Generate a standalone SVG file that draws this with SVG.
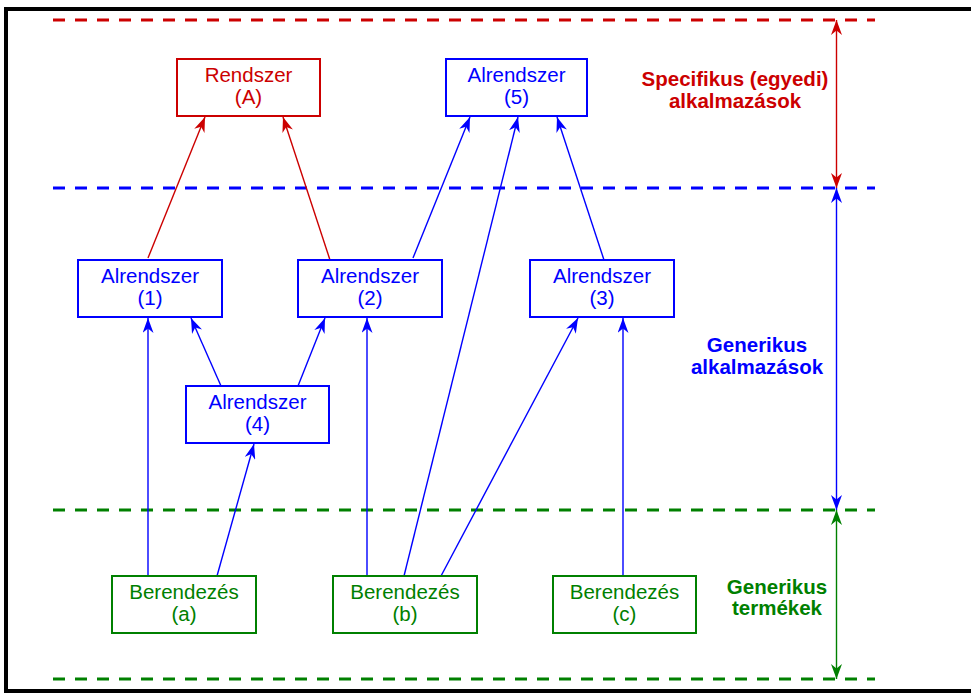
<svg xmlns="http://www.w3.org/2000/svg" width="971" height="693" viewBox="0 0 971 693">
  <style>
    .box { fill: #ffffff; stroke-width: 2; }
    .lbl { font-family: "Liberation Sans", Arial, sans-serif; font-size: 20.5px; text-anchor: middle; }
    .side { font-family: "Liberation Sans", Arial, sans-serif; font-size: 20.5px; font-weight: bold; text-anchor: middle; }
    .red { stroke: #cc0000; }
    .blue { stroke: #0000ff; }
    .green { stroke: #008000; }
    .tred { fill: #cc0000; }
    .tblue { fill: #0000ff; }
    .tgreen { fill: #008000; }
    .level { stroke-width: 3; stroke-dasharray: 12 10; fill: none; }
    .link { stroke-width: 1.4; fill: none; }
  </style>
  <defs>
    <marker id="ah-red" viewBox="0 0 15 11" refX="15" refY="5.5" markerWidth="15" markerHeight="11" markerUnits="userSpaceOnUse" orient="auto-start-reverse">
      <path d="M0,0 L15,5.5 L0,11 L4.5,5.5 Z" fill="#cc0000"/>
    </marker>
    <marker id="ah-blue" viewBox="0 0 15 11" refX="15" refY="5.5" markerWidth="15" markerHeight="11" markerUnits="userSpaceOnUse" orient="auto-start-reverse">
      <path d="M0,0 L15,5.5 L0,11 L4.5,5.5 Z" fill="#0000ff"/>
    </marker>
    <marker id="ah-green" viewBox="0 0 15 11" refX="15" refY="5.5" markerWidth="15" markerHeight="11" markerUnits="userSpaceOnUse" orient="auto-start-reverse">
      <path d="M0,0 L15,5.5 L0,11 L4.5,5.5 Z" fill="#008000"/>
    </marker>
  </defs>

  <rect x="0" y="0" width="971" height="693" fill="#ffffff"/>

  <!-- frame -->
  <g id="frame" stroke="#000000" stroke-width="4" fill="none">
    <line x1="4" y1="9" x2="975" y2="9"/>
    <line x1="6" y1="7" x2="6" y2="693"/>
    <line x1="4" y1="691" x2="975" y2="691"/>
  </g>

  <!-- level boundaries -->
  <g id="levels">
    <line class="level red" x1="53" y1="20" x2="875" y2="20"/>
    <line class="level blue" x1="53" y1="188" x2="875" y2="188"/>
    <line class="level green" x1="53" y1="510" x2="875" y2="510"/>
    <line class="level green" x1="53" y1="679" x2="875" y2="679"/>
  </g>

  <!-- level extents -->
  <g id="extents">
    <line class="link red" x1="836.5" y1="20" x2="836.5" y2="188" marker-start="url(#ah-red)" marker-end="url(#ah-red)"/>
    <line class="link blue" x1="836.5" y1="188" x2="836.5" y2="510" marker-start="url(#ah-blue)" marker-end="url(#ah-blue)"/>
    <line class="link green" x1="836.5" y1="510" x2="836.5" y2="679" marker-start="url(#ah-green)" marker-end="url(#ah-green)"/>
  </g>

  <!-- connectors -->
  <g id="connectors">
    <line class="link red" x1="148" y1="258" x2="205" y2="117" marker-end="url(#ah-red)"/>
    <line class="link red" x1="330" y1="260" x2="283" y2="117" marker-end="url(#ah-red)"/>
    <line class="link blue" x1="413" y1="258" x2="470" y2="117" marker-end="url(#ah-blue)"/>
    <line class="link blue" x1="404" y1="576" x2="518" y2="117" marker-end="url(#ah-blue)"/>
    <line class="link blue" x1="604" y1="260" x2="557" y2="117" marker-end="url(#ah-blue)"/>
    <line class="link blue" x1="148" y1="576" x2="148" y2="318" marker-end="url(#ah-blue)"/>
    <line class="link blue" x1="221" y1="386" x2="191" y2="318" marker-end="url(#ah-blue)"/>
    <line class="link blue" x1="298" y1="386" x2="325" y2="318" marker-end="url(#ah-blue)"/>
    <line class="link blue" x1="217" y1="576" x2="254" y2="444" marker-end="url(#ah-blue)"/>
    <line class="link blue" x1="367" y1="576" x2="367" y2="318" marker-end="url(#ah-blue)"/>
    <line class="link blue" x1="441" y1="576" x2="578" y2="318" marker-end="url(#ah-blue)"/>
    <line class="link blue" x1="623" y1="576" x2="623" y2="318" marker-end="url(#ah-blue)"/>
  </g>

  <!-- specific level -->
  <g id="rendszer-A">
    <rect class="box red" x="177" y="59" width="143" height="57"/>
    <text class="lbl tred" x="248.5" y="82">Rendszer</text>
    <text class="lbl tred" x="248.5" y="104">(A)</text>
  </g>
  <g id="alrendszer-5">
    <rect class="box blue" x="446" y="59" width="141" height="57"/>
    <text class="lbl tblue" x="516.5" y="82">Alrendszer</text>
    <text class="lbl tblue" x="516.5" y="104">(5)</text>
  </g>

  <!-- generic applications -->
  <g id="alrendszer-1">
    <rect class="box blue" x="78" y="260" width="144" height="57"/>
    <text class="lbl tblue" x="150" y="282.5">Alrendszer</text>
    <text class="lbl tblue" x="150" y="305">(1)</text>
  </g>
  <g id="alrendszer-2">
    <rect class="box blue" x="298" y="260" width="144" height="57"/>
    <text class="lbl tblue" x="370" y="282.5">Alrendszer</text>
    <text class="lbl tblue" x="370" y="305">(2)</text>
  </g>
  <g id="alrendszer-3">
    <rect class="box blue" x="530" y="260" width="144" height="57"/>
    <text class="lbl tblue" x="602" y="282.5">Alrendszer</text>
    <text class="lbl tblue" x="602" y="305">(3)</text>
  </g>
  <g id="alrendszer-4">
    <rect class="box blue" x="186" y="386" width="143" height="57"/>
    <text class="lbl tblue" x="257.5" y="408.5">Alrendszer</text>
    <text class="lbl tblue" x="257.5" y="431">(4)</text>
  </g>

  <!-- generic products -->
  <g id="berendezes-a">
    <rect class="box green" x="112" y="576" width="144" height="57"/>
    <text class="lbl tgreen" x="184" y="598.5">Berendezés</text>
    <text class="lbl tgreen" x="184" y="621">(a)</text>
  </g>
  <g id="berendezes-b">
    <rect class="box green" x="333" y="576" width="144" height="57"/>
    <text class="lbl tgreen" x="405" y="598.5">Berendezés</text>
    <text class="lbl tgreen" x="405" y="621">(b)</text>
  </g>
  <g id="berendezes-c">
    <rect class="box green" x="553" y="576" width="143" height="57"/>
    <text class="lbl tgreen" x="624.5" y="598.5">Berendezés</text>
    <text class="lbl tgreen" x="624.5" y="621">(c)</text>
  </g>

  <!-- level captions -->
  <g id="caption-specific">
    <text class="side tred" x="735" y="86">Specifikus (egyedi)</text>
    <text class="side tred" x="735" y="108">alkalmazások</text>
  </g>
  <g id="caption-applications">
    <text class="side tblue" x="757" y="352">Generikus</text>
    <text class="side tblue" x="757" y="374">alkalmazások</text>
  </g>
  <g id="caption-products">
    <text class="side tgreen" x="777" y="594">Generikus</text>
    <text class="side tgreen" x="777" y="615">termékek</text>
  </g>
</svg>
